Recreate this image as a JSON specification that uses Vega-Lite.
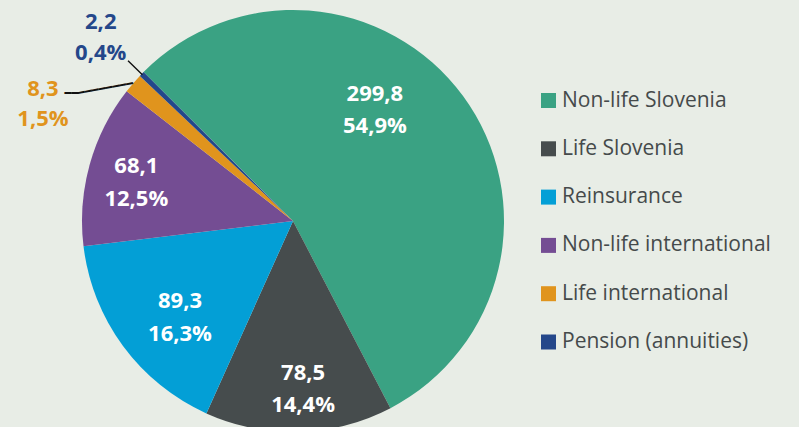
{
  "$schema": "https://vega.github.io/schema/vega-lite/v6.json",
  "width": 586,
  "height": 412,
  "autosize": "none",
  "padding": {"left": 0, "top": 15, "right": 213, "bottom": 0},
  "background": "#e8ede6",
  "config": {"view": {"stroke": null}, "font": "Open Sans"},
  "data": {
    "values": [
      {"rank": 1, "category": "Non-life Slovenia", "value": 299.8, "pct": 54.9},
      {"rank": 2, "category": "Life Slovenia", "value": 78.5, "pct": 14.4},
      {"rank": 3, "category": "Reinsurance", "value": 89.3, "pct": 16.3},
      {"rank": 4, "category": "Non-life international", "value": 68.1, "pct": 12.5},
      {"rank": 5, "category": "Life international", "value": 8.3, "pct": 1.5},
      {"rank": 6, "category": "Pension (annuities)", "value": 2.2, "pct": 0.4}
    ]
  },
  "transform": [
    {"window": [{"op": "sum", "field": "value", "as": "cum"}], "sort": [{"field": "rank"}], "frame": [null, 0]},
    {"calculate": "datum.cum - datum.value", "as": "start"},
    {"calculate": "datum.cum - datum.value / 2", "as": "mid"},
    {"calculate": "[replace(format(datum.value, '.1f'), '.', ','), replace(format(datum.pct, '.1f'), '.', ',') + '%']", "as": "label"}
  ],
  "resolve": {"scale": {"theta": "shared"}},
  "layer": [
    {
      "mark": {"type": "arc", "outerRadius": 211, "stroke": null},
      "encoding": {
        "theta": {"field": "start", "type": "quantitative", "stack": null, "scale": {"domain": [0, 546.2], "range": [-0.787, 5.496], "zero": true, "nice": false}},
        "theta2": {"field": "cum"},
        "color": {
          "field": "category", "type": "nominal",
          "scale": {
            "domain": ["Non-life Slovenia", "Life Slovenia", "Reinsurance", "Non-life international", "Life international", "Pension (annuities)"],
            "range": ["#3aa283", "#464c4d", "#039fd6", "#744d93", "#e0941d", "#24478a"]
          },
          "legend": {
            "title": null, "orient": "none", "legendX": 538, "legendY": 75,
            "symbolType": "square", "symbolSize": 225, "symbolStrokeWidth": 0,
            "labelFont": "Open Sans", "labelFontSize": 21, "labelColor": "#454a4b",
            "labelOffset": 3, "rowPadding": 26.3, "padding": 0, "labelLimit": 300
          }
        }
      }
    },
    {
      "transform": [{"filter": "datum.category == 'Non-life Slovenia'"}],
      "mark": {"type": "text", "radius": 151, "thetaOffset": -0.364, "font": "Open Sans", "fontWeight": "bold", "fontSize": 22, "lineHeight": 32, "color": "#ffffff", "align": "center", "baseline": "middle"},
      "encoding": {"theta": {"field": "mid", "type": "quantitative", "stack": null}, "text": {"field": "label"}}
    },
    {
      "transform": [{"filter": "datum.category == 'Life Slovenia'"}],
      "mark": {"type": "text", "radius": 152, "thetaOffset": -0.0377, "font": "Open Sans", "fontWeight": "bold", "fontSize": 22, "lineHeight": 32, "color": "#ffffff", "align": "center", "baseline": "middle"},
      "encoding": {"theta": {"field": "mid", "type": "quantitative", "stack": null}, "text": {"field": "label"}}
    },
    {
      "transform": [{"filter": "datum.category == 'Reinsurance'"}],
      "mark": {"type": "text", "radius": 138.5, "thetaOffset": 0.0175, "font": "Open Sans", "fontWeight": "bold", "fontSize": 22, "lineHeight": 33, "color": "#ffffff", "align": "center", "baseline": "middle"},
      "encoding": {"theta": {"field": "mid", "type": "quantitative", "stack": null}, "text": {"field": "label"}}
    },
    {
      "transform": [{"filter": "datum.category == 'Non-life international'"}],
      "mark": {"type": "text", "radius": 166, "thetaOffset": 0.066, "font": "Open Sans", "fontWeight": "bold", "fontSize": 22, "lineHeight": 33, "color": "#ffffff", "align": "center", "baseline": "middle"},
      "encoding": {"theta": {"field": "mid", "type": "quantitative", "stack": null}, "text": {"field": "label"}}
    },
    {
      "transform": [{"filter": "datum.category == 'Life international'"}],
      "mark": {"type": "text", "radius": 282.7, "thetaOffset": -0.225, "font": "Open Sans", "fontWeight": "bold", "fontSize": 22, "lineHeight": 30, "color": "#e0941d", "align": "center", "baseline": "middle"},
      "encoding": {"theta": {"field": "mid", "type": "quantitative", "stack": null}, "text": {"field": "label"}}
    },
    {
      "transform": [{"filter": "datum.category == 'Pension (annuities)'"}],
      "mark": {"type": "text", "radius": 276.5, "thetaOffset": 0.031, "font": "Open Sans", "fontWeight": "bold", "fontSize": 22, "lineHeight": 31, "color": "#24478a", "align": "center", "baseline": "middle"},
      "encoding": {"theta": {"field": "mid", "type": "quantitative", "stack": null}, "text": {"field": "label"}}
    },
    {
      "transform": [{"filter": "datum.category == 'Pension (annuities)'"}],
      "mark": {"type": "arc", "outerRadius": 230, "innerRadius": 210, "fill": "transparent", "stroke": "#111111", "strokeWidth": 1.4},
      "encoding": {"theta": {"field": "mid", "type": "quantitative", "stack": null}, "theta2": {"field": "mid"}}
    },
    {
      "transform": [{"filter": "datum.category == 'Life international'"}],
      "mark": {"type": "text", "radius": 229.3, "thetaOffset": -0.0969, "angle": -10.3, "font": "DejaVu Sans Mono", "fontSize": 11.6, "color": "#111111", "align": "center", "baseline": "middle", "text": "━━━━━━━━"},
      "encoding": {"theta": {"field": "mid", "type": "quantitative", "stack": null}}
    },
    {
      "transform": [{"filter": "datum.category == 'Life international'"}],
      "mark": {"type": "text", "radius": 255.3, "thetaOffset": -0.19, "font": "DejaVu Sans Mono", "fontSize": 11.6, "color": "#111111", "align": "center", "baseline": "middle", "text": "━━"},
      "encoding": {"theta": {"field": "mid", "type": "quantitative", "stack": null}}
    }
  ]
}
